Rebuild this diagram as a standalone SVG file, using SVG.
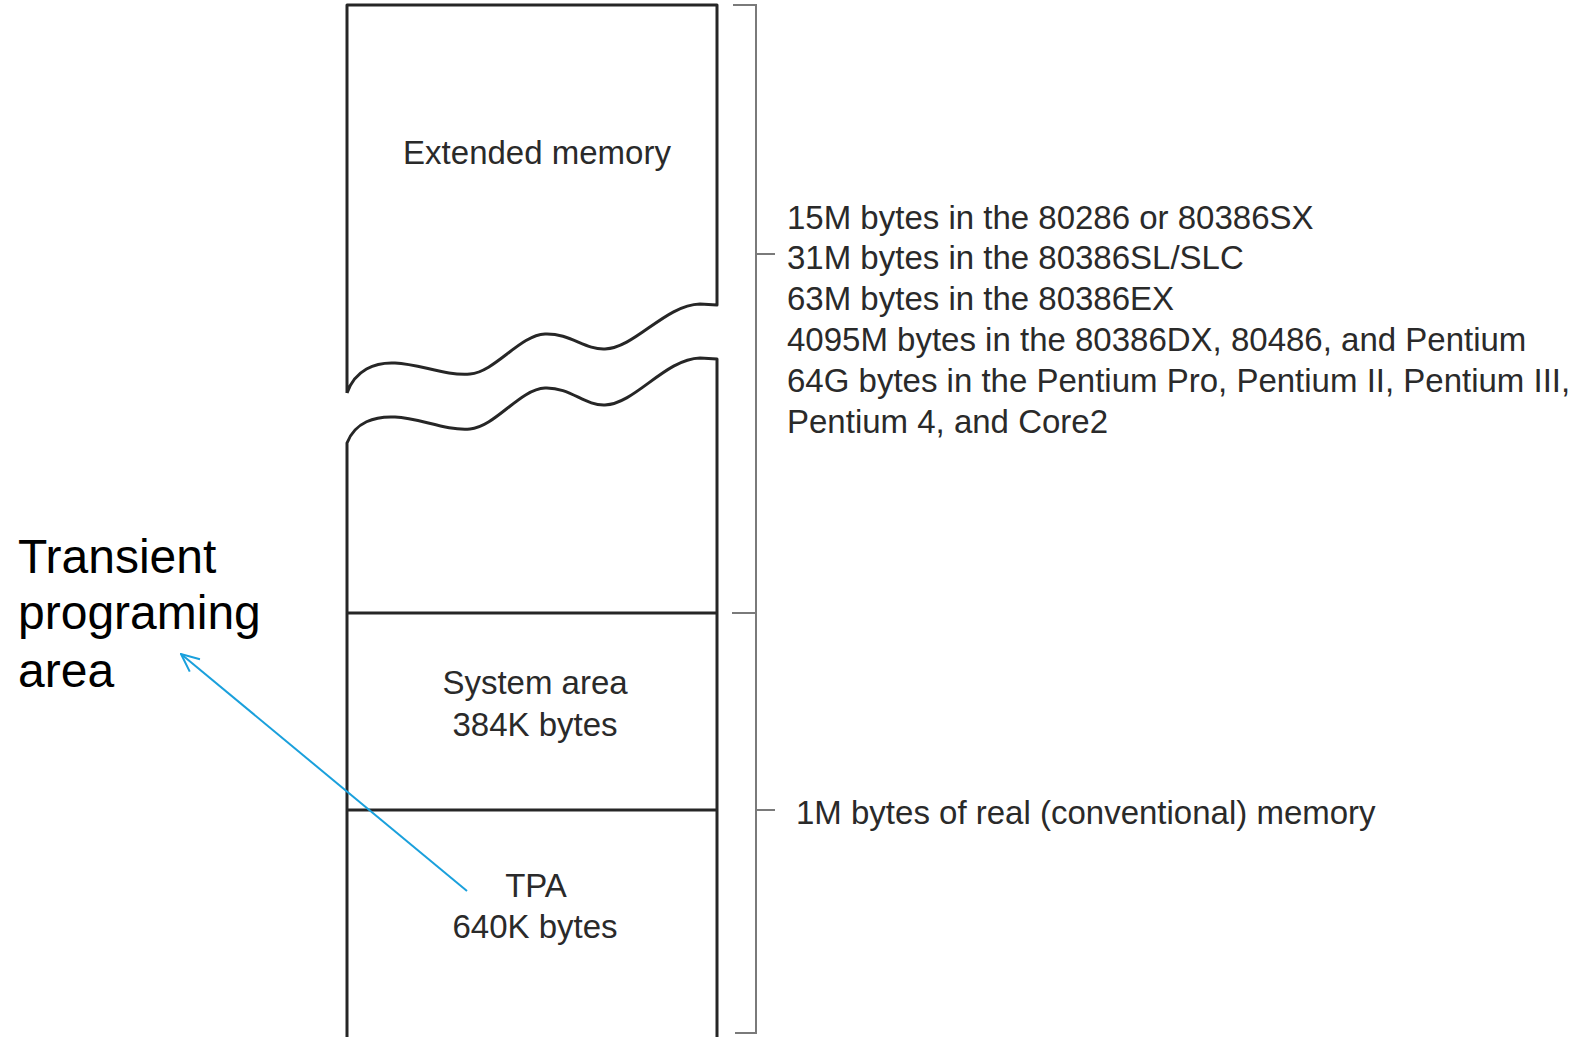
<svg xmlns="http://www.w3.org/2000/svg" width="1576" height="1037" viewBox="0 0 1576 1037">
<defs>
<style>
.box{fill:none;stroke:#262626;stroke-width:3;stroke-linejoin:round}
.br{fill:none;stroke:#7a7a7a;stroke-width:2}
.t{font-family:"Liberation Sans",Arial,sans-serif;font-size:33px;fill:#2a2a2a}
.c{text-anchor:middle}
.lab{font-family:"Liberation Sans",Arial,sans-serif;font-size:48px;fill:#000}
</style>
<marker id="ah" viewBox="0 0 20 20" refX="19" refY="10" markerWidth="20" markerHeight="20" markerUnits="userSpaceOnUse" orient="auto">
<path d="M1,2 L19,10 L1,18" fill="none" stroke="#1AA0DC" stroke-width="2"/>
</marker>
</defs>
<rect width="1576" height="1037" fill="#fff"/>
<g id="extended-upper">
<path class="box" d="M347,393 L347,5 L717,5 L717,305 L700,304 C665,305 635,348 605,349 C585,350 570,333 545,334 C520,335 495,372 470,374 C445,376 420,364 395,363 C375,362 355,370 347,393"/>
<text class="t c" x="537" y="164">Extended memory</text>
</g>
<g id="extended-lower">
<path class="box" d="M347,1040 L347,443 C355,422 375,416 395,417 C420,418 445,431 470,429 C495,427 520,389 545,388 C570,387 585,406 605,405 C635,404 665,359 700,358 L717,359 L717,1040"/>
<line class="box" x1="347" y1="613" x2="717" y2="613"/>
</g>
<g id="system-area">
<line class="box" x1="347" y1="810" x2="717" y2="810"/>
<text class="t c" x="535" y="694">System area</text>
<text class="t c" x="535" y="736">384K bytes</text>
</g>
<g id="tpa">
<text class="t c" x="536" y="897">TPA</text>
<text class="t c" x="535" y="938">640K bytes</text>
</g>
<g id="brackets">
<path class="br" d="M733,5 L756,5 L756,1033 L735,1033"/>
<line class="br" x1="756" y1="254" x2="775" y2="254"/>
<line class="br" x1="732" y1="613" x2="756" y2="613"/>
<line class="br" x1="756" y1="810" x2="775" y2="810"/>
</g>
<g id="extended-note">
<text class="t" x="787" y="229">15M bytes in the 80286 or 80386SX</text>
<text class="t" x="787" y="269">31M bytes in the 80386SL/SLC</text>
<text class="t" x="787" y="310">63M bytes in the 80386EX</text>
<text class="t" x="787" y="351">4095M bytes in the 80386DX, 80486, and Pentium</text>
<text class="t" x="787" y="392">64G bytes in the Pentium Pro, Pentium II, Pentium III,</text>
<text class="t" x="787" y="433">Pentium 4, and Core2</text>
</g>
<g id="real-note">
<text class="t" x="796" y="824">1M bytes of real (conventional) memory</text>
</g>
<g id="tpa-label">
<text class="lab" x="18" y="573">Transient</text>
<text class="lab" x="18" y="629">programing</text>
<text class="lab" x="18" y="687">area</text>
</g>
<g id="connectors">
<line x1="467" y1="891" x2="181" y2="654" stroke="#1AA0DC" stroke-width="2" marker-end="url(#ah)"/>
</g>
</svg>
